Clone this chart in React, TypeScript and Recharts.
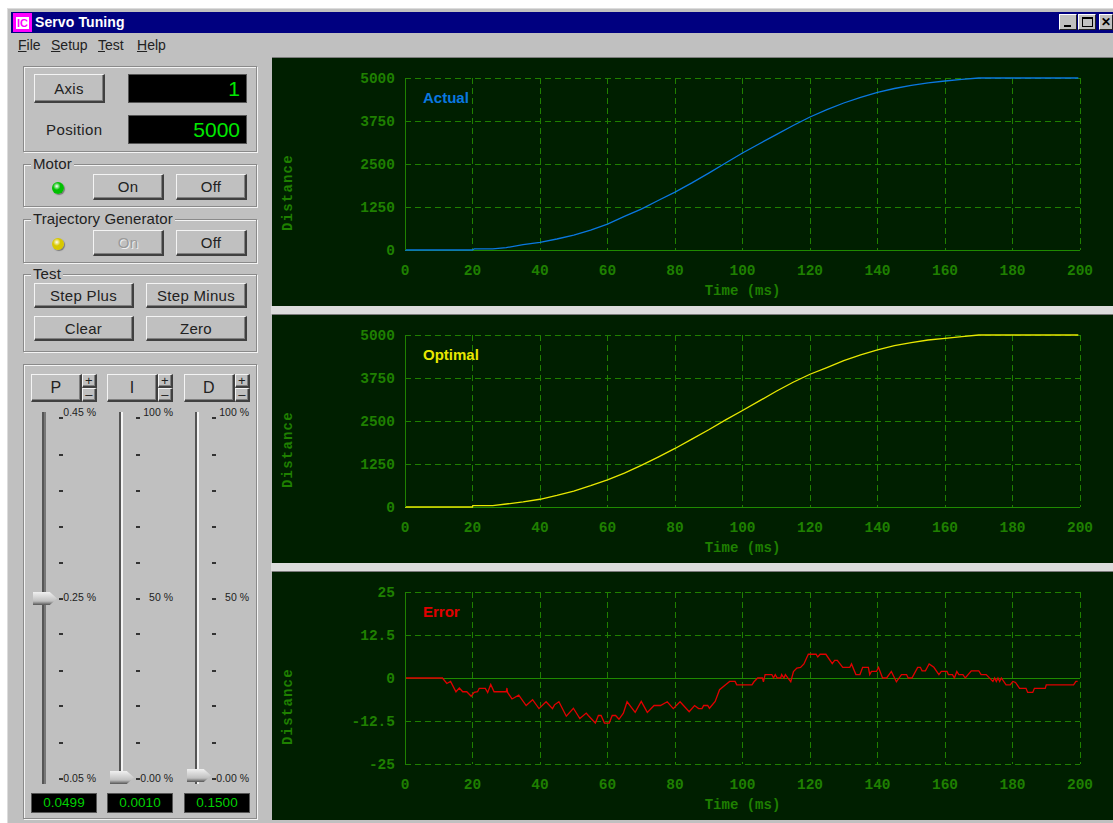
import React from "react";
import { LineChart, Line, XAxis, YAxis, CartesianGrid, ReferenceLine } from "recharts";

const timeTicks = [0, 20, 40, 60, 80, 100, 120, 140, 160, 180, 200];
const distanceTicks = [0, 1250, 2500, 3750, 5000];
const errorTicks = [-25, -12.5, 0, 12.5, 25];

const actualTimes = [0, 20, 20.5, 26, 30, 35, 40, 45, 50, 55, 60, 65, 70, 75, 80, 85, 90, 95, 100, 105, 110, 115, 120, 125, 130, 135, 140, 145, 150, 155, 160, 165, 170, 199.5];
const actualValues = [0, 0, 30, 30, 70, 155, 220, 320, 435, 580, 755, 977, 1190, 1440, 1683, 1950, 2236, 2530, 2820, 3090, 3353, 3620, 3866, 4080, 4273, 4440, 4583, 4695, 4787, 4860, 4913, 4960, 5000, 5000];

const optimalTimes = [0, 20, 20.1, 26, 30, 35, 40, 45, 50, 55, 60, 65, 70, 75, 80, 85, 90, 95, 100, 105, 110, 115, 120, 125, 130, 135, 140, 145, 150, 155, 160, 165, 170, 199.5];
const optimalValues = [0, 0, 40, 40, 87, 150, 225, 338, 464, 619, 790, 986, 1209, 1451, 1702, 1973, 2244, 2534, 2805, 3085, 3365, 3627, 3859, 4052, 4255, 4420, 4565, 4690, 4778, 4855, 4903, 4952, 5000, 5000];

const errorTimes = [0, 11.1, 12.4, 13.5, 15.1, 16.1, 17.1, 18.3, 19.6, 20.5, 21.5, 22, 23.8, 24.5, 25.4, 26.4, 30, 30.2, 30.4, 31.7, 33.7, 35.9, 37.8, 39.7, 41.8, 43.7, 44.3, 45.6, 47.8, 49.9, 51.8, 53.7, 54.3, 56.4, 57.3, 58.1, 59.1, 60.5, 61.4, 62.4, 63.4, 64.7, 65.8, 68.2, 70, 71.8, 73.8, 75.7, 77.7, 79.5, 81.5, 84.2, 85.8, 87, 88, 88.5, 89.7, 90.2, 91.9, 93.2, 94.9, 96.2, 97.8, 98.3, 102.8, 103.4, 104.5, 105.9, 106.2, 106.7, 108.7, 109.2, 109.7, 110.3, 111.3, 111.6, 112.3, 112.7, 114.3, 115.1, 116.1, 117.2, 118.2, 119.5, 121.8, 122.3, 123, 124.7, 126.6, 127.3, 128.1, 129.7, 131.8, 132.3, 133.6, 134.8, 135.6, 137.3, 137.7, 138.2, 139.7, 140.3, 141.5, 142.7, 144.1, 145.6, 147.1, 148.6, 149.1, 150.2, 151.9, 152.7, 153.2, 154.2, 155.3, 156.7, 158.2, 158.9, 160.6, 161, 162.2, 162.8, 163.5, 164.1, 165.3, 166, 167.8, 170, 170.7, 172.2, 174.2, 174.7, 175.2, 175.7, 176.2, 176.7, 178.1, 179.3, 180.1, 180.9, 182.1, 184, 184.5, 186, 186.5, 189.7, 190, 198.1, 198.8, 199.3];
const errorValues = [0, 0, -1.6, -1, -4, -2.9, -4, -4, -5.3, -4.2, -4, -3, -3, -4.2, -1.9, -4, -4, -2.9, -4.2, -6.1, -5, -8, -6.3, -8.9, -6.9, -8.9, -7.8, -6.9, -11.1, -8.8, -11.8, -10.2, -10.9, -13.1, -10.9, -10.9, -13.1, -13.1, -10.9, -10.9, -12, -10.2, -6.9, -10, -6.8, -10, -8, -8, -6.9, -8.9, -6.9, -9.8, -8, -8.9, -8.9, -8, -8, -8.8, -6.8, -3.4, -2, -1, -1, -2, -2, -1.1, 0, 0, -1.1, 1, 1, 0, 1, 0, 0, 1, 0, 1, -1.1, 1.9, 2.9, 3.1, 4.1, 6.9, 6.9, 6.1, 6.9, 6.9, 4.2, 5.1, 5.1, 3.1, 3.1, 4.1, 1, 1, 3.1, 3.1, 1, 1.9, 1.9, 3.1, 0, 0, 1.9, -1.1, 1, 1, 0, 0, 3.1, 3.1, 2.1, 2.1, 4.1, 3.1, 1, 1.9, 1.9, 1, 1, 0, 1.9, 1, 1, 0, 2.1, 2.1, 1, 1, -1, 0, -1, 0, -1, 0, -2, -2, -1, -1.3, -3, -3, -4.2, -4.2, -3, -3, -2, -2, -1, -1];

const pTicksText = ["0.45 %", "0.25 %", "0.05 %"];
const iTicksText = ["100 %", "50 %", "0.00 %"];
const dTicksText = ["100 %", "50 %", "0.00 %"];
const sliderTickY = [417, 454, 490, 526, 562, 598, 633, 670, 705, 742, 778];

const toRows = (ts: number[], vs: number[]) => ts.map((t, i) => ({ t, v: vs[i] }));

const GREEN = "#1f8000";
const SANS = '"Liberation Sans", Arial, sans-serif';
const MONO = '"Liberation Mono", monospace';

type PlotProps = {
  top: number;
  rows: { t: number; v: number }[];
  yTicks: number[];
  yDomain: [number, number];
  name: string;
  color: string;
};

function TickText({ x, y, payload, anchor, dy }: any) {
  return (
    <text x={x} y={y} dy={dy} textAnchor={anchor} fill={GREEN} fontFamily={MONO} fontWeight="bold" fontSize={14.5}>
      {payload.value}
    </text>
  );
}

function Plot({ top, rows, yTicks, yDomain, name, color }: PlotProps) {
  return (
    <div style={{ position: "absolute", left: 272, top, width: 841, height: 249, background: "#001f00", borderTop: "1px solid #7a7a7a", boxSizing: "border-box" }}>
      <LineChart width={841} height={248} data={rows} margin={{ top: 20, right: 33, bottom: 26, left: 73 }}>
        <CartesianGrid stroke={GREEN} strokeDasharray="6 4" shapeRendering="crispEdges" horizontalValues={yTicks} verticalValues={timeTicks} />
        <XAxis
          dataKey="t"
          type="number"
          domain={[0, 200]}
          ticks={timeTicks}
          height={30}
          interval={0}
          axisLine={false}
          tickLine={false}
          tick={(p: any) => <TickText {...p} y={p.y + 6} dy={11} anchor="middle" />}
          label={{ value: "Time (ms)", position: "bottom", offset: 0, dy: 5, fill: GREEN, fontFamily: MONO, fontWeight: "bold", fontSize: 14 }}
        />
        <YAxis
          type="number"
          domain={yDomain}
          ticks={yTicks}
          width={60}
          interval={0}
          axisLine={{ stroke: GREEN, shapeRendering: "crispEdges" }}
          tickLine={false}
          tick={(p: any) => <TickText {...p} x={p.x - 2} dy={5} anchor="end" />}
          label={{ value: "Distance", angle: -90, position: "insideLeft", offset: -58, dy: 67, fill: GREEN, fontFamily: MONO, fontWeight: "bold", fontSize: 14, letterSpacing: 1.2 }}
        />
        <ReferenceLine y={0} stroke="#1f8a00" shapeRendering="crispEdges" />
        <Line dataKey="v" type="linear" stroke={color} strokeWidth={1.3} dot={false} isAnimationActive={false} />
        <text x={151} y={45} fill={color} fontFamily={SANS} fontWeight="bold" fontSize={15}>
          {name}
        </text>
      </LineChart>
    </div>
  );
}

const abs = (l: number, t: number, w: number, h: number): React.CSSProperties => ({ position: "absolute", left: l, top: t, width: w, height: h, boxSizing: "border-box" });

function Btn({ x, y, w, h, label, disabled, fs = 15 }: any) {
  return (
    <div
      style={{
        ...abs(x, y, w, h),
        background: "#c0c0c0",
        borderTop: "1.5px solid #f4f4f4",
        borderLeft: "1.5px solid #f4f4f4",
        borderRight: "2px solid #404040",
        borderBottom: "2px solid #404040",
        boxShadow: "inset -1px -1px 0 #808080",
        display: "flex",
        alignItems: "center",
        justifyContent: "center",
        fontFamily: SANS,
        fontSize: fs,
        letterSpacing: 0.3,
        color: disabled ? "#9a9a9a" : "#222",
        textShadow: disabled ? "1px 1px 0 #eee" : undefined,
      }}
    >
      {label}
    </div>
  );
}

function Group({ y, h, title }: any) {
  return (
    <div style={{ ...abs(23, y, 234, h), border: "1px solid #8a8a8a", boxShadow: "1px 1px 0 #f4f4f4, inset 1px 1px 0 #f4f4f4" }}>
      {title && (
        <span style={{ position: "absolute", left: 7, top: -10, padding: "0 2px", background: "#c0c0c0", fontFamily: SANS, fontSize: 15, lineHeight: "17px", letterSpacing: 0.1, color: "#222" }}>
          {title}
        </span>
      )}
    </div>
  );
}

function Lcd({ x, y, w, h, text, fs, align = "right" }: any) {
  return (
    <div
      style={{
        ...abs(x, y, w, h),
        background: "#000",
        border: "1px solid #555",
        color: fs > 16 ? "#00e800" : "#00d000",
        fontFamily: SANS,
        fontSize: fs,
        lineHeight: `${h - 2}px`,
        textAlign: align,
        paddingRight: align === "right" ? 6 : 0,
      }}
    >
      {text}
    </div>
  );
}

function Led({ x, y, color }: any) {
  return (
    <div style={{ ...abs(x - 6, y - 6, 12, 12), borderRadius: 6, background: `radial-gradient(circle at 40% 35%, #fff 0, ${color} 35%, ${color} 70%, #333 100%)`, boxShadow: "1px 1px 1px #777" }} />
  );
}

function Slider({ btnX, label, trackX, tickX, labelRight, labels, thumbX, thumbY, trackLight, readout }: any) {
  return (
    <>
      <Btn x={btnX} y={374} w={51} h={28} label={label} fs={16} />
      <Btn x={btnX + 51} y={374} w={15} h={14} label="+" fs={13} />
      <Btn x={btnX + 51} y={388} w={15} h={14} label="–" fs={13} />
      <div style={{ ...abs(trackX, 412, 4, 372), background: "#555", borderRight: `2px solid ${trackLight}` }} />
      {sliderTickY.map((t) => (
        <div key={t} style={{ ...abs(tickX, t, 4, 1.5), background: "#333" }} />
      ))}
      {labels.map((s: string, i: number) => (
        <div key={s + i} style={{ position: "absolute", right: 1113 - labelRight, top: [405, 590, 771][i], fontFamily: SANS, fontSize: 10.5, lineHeight: "14px", color: "#222", whiteSpace: "nowrap" }}>
          {s}
        </div>
      ))}
      <div
        style={{
          ...abs(thumbX, thumbY, 24, 13),
          background: "linear-gradient(#f0f0f0, #c0c0c0 70%, #555)",
          clipPath: "polygon(0 0, 70% 0, 100% 50%, 70% 100%, 0 100%)",
        }}
      />
      <Lcd x={btnX} y={793} w={66} h={20} text={readout} fs={13.5} align="center" />
    </>
  );
}

function MenuItem({ x, first, rest }: any) {
  return (
    <span style={{ position: "absolute", left: x, top: 37, fontFamily: SANS, fontSize: 14, lineHeight: "16px", letterSpacing: 0, color: "#222" }}>
      <u>{first}</u>
      {rest}
    </span>
  );
}

function WinBtn({ x, w = 18, glyph }: any) {
  return (
    <div style={{ ...abs(x, 14, w, 16), background: "#c0c0c0", overflow: "hidden", borderTop: "1px solid #fff", borderLeft: "1px solid #fff", borderRight: "1px solid #222", borderBottom: "1px solid #222" }}>
      {glyph === "min" && <div style={{ ...abs(4, 10, 7, 2), background: "#000" }} />}
      {glyph === "max" && <div style={{ ...abs(3, 2, 11, 10), border: "1px solid #000", borderTop: "2px solid #000" }} />}
      {glyph === "close" && <div style={{ position: "absolute", left: 1, top: -2, fontFamily: SANS, fontWeight: "bold", fontSize: 12, lineHeight: "18px", color: "#000" }}>✕</div>}
    </div>
  );
}

export default function App() {
  return (
    <div style={{ position: "absolute", left: 0, top: 0, width: 1113, height: 823, overflow: "hidden", background: "#fff" }}>
      <div style={{ ...abs(7, 8, 1106, 815), background: "#c0c0c0", borderTop: "1px solid #dcdcdc", borderLeft: "1px solid #dcdcdc" }} />
      <div style={{ ...abs(11, 12, 1102, 21), background: "#000080" }} />
      <div style={{ ...abs(13, 13, 19, 19), background: "#ff00ff", display: "flex", alignItems: "center", justifyContent: "center" }}>
        <div style={{ width: 13, height: 12, background: "#fff", color: "#ff00ff", fontFamily: SANS, fontWeight: "bold", fontSize: 11, lineHeight: "12px", textAlign: "center" }}>IC</div>
      </div>
      <div style={{ position: "absolute", left: 35, top: 14, fontFamily: SANS, fontWeight: "bold", fontSize: 14, lineHeight: "17px", letterSpacing: 0.1, color: "#fff" }}>Servo Tuning</div>
      <WinBtn x={1059} glyph="min" />
      <WinBtn x={1078} glyph="max" />
      <WinBtn x={1099} w={14} glyph="close" />
      <MenuItem x={18} first="F" rest="ile" />
      <MenuItem x={51} first="S" rest="etup" />
      <MenuItem x={98} first="T" rest="est" />
      <MenuItem x={137} first="H" rest="elp" />

      <Group y={66} h={86} />
      <Btn x={34} y={74} w={71} h={29} label="Axis" />
      <Lcd x={128} y={74} w={119} h={29} text="1" fs={21} />
      <div style={{ position: "absolute", left: 46, top: 121, fontFamily: SANS, fontSize: 15, lineHeight: "18px", letterSpacing: 0.4, color: "#222" }}>Position</div>
      <Lcd x={128} y={115} w={119} h={29} text="5000" fs={21} />

      <Group y={164} h={43} title="Motor" />
      <Led x={58} y={188} color="#00c000" />
      <Btn x={93} y={174} w={71} h={26} label="On" />
      <Btn x={176} y={174} w={71} h={26} label="Off" />

      <Group y={219} h={44} title="Trajectory Generator" />
      <Led x={58} y={244} color="#d8c800" />
      <Btn x={93} y={230} w={71} h={26} label="On" disabled />
      <Btn x={176} y={230} w={71} h={26} label="Off" />

      <Group y={274} h={78} title="Test" />
      <Btn x={34} y={283} w={100} h={25} label="Step Plus" />
      <Btn x={146} y={283} w={101} h={25} label="Step Minus" />
      <Btn x={34} y={316} w={100} h={25} label="Clear" />
      <Btn x={146} y={316} w={101} h={25} label="Zero" />

      <Group y={364} h={455} />
      <Slider btnX={31} label="P" trackX={42} tickX={59} labelRight={96} labels={pTicksText} thumbX={33} thumbY={592} trackLight="#777" readout="0.0499" />
      <Slider btnX={107} label="I" trackX={119} tickX={136} labelRight={173} labels={iTicksText} thumbX={110} thumbY={771} trackLight="#f4f4f4" readout="0.0010" />
      <Slider btnX={184} label="D" trackX={195} tickX={212} labelRight={249} labels={dTicksText} thumbX={187} thumbY={769} trackLight="#f4f4f4" readout="0.1500" />

      <div style={{ ...abs(271, 306, 842, 8), background: "#dcdcdc" }} />
      <div style={{ ...abs(271, 563, 842, 8), background: "#dcdcdc" }} />
      <Plot top={57} rows={toRows(actualTimes, actualValues)} yTicks={distanceTicks} yDomain={[0, 5000]} name="Actual" color="#0a78e0" />
      <Plot top={314} rows={toRows(optimalTimes, optimalValues)} yTicks={distanceTicks} yDomain={[0, 5000]} name="Optimal" color="#e8e800" />
      <Plot top={571} rows={toRows(errorTimes, errorValues)} yTicks={errorTicks} yDomain={[-25, 25]} name="Error" color="#e00000" />
    </div>
  );
}
